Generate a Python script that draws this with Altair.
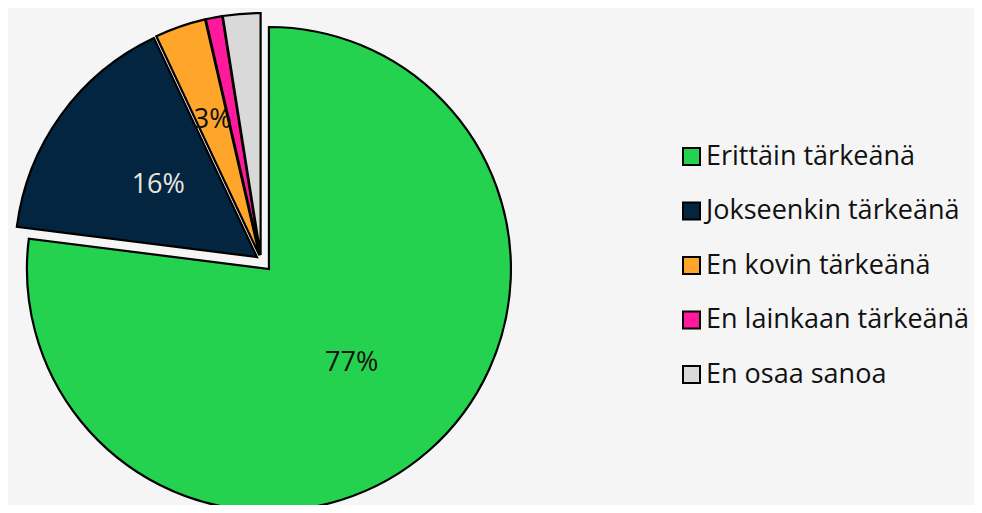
import altair as alt
import pandas as pd

categories = ["Erittäin tärkeänä", "Jokseenkin tärkeänä", "En kovin tärkeänä", "En lainkaan tärkeänä", "En osaa sanoa"]
values = [77.0, 16.0, 3.4, 1.1, 2.5]
labels = ["77%", "16%", "3%", "", ""]
colors = ["#25d24f", "#03253f", "#ffa52a", "#ff1a9c", "#d9d9d9"]
label_colors = ["#111111", "#e6e6e0", "#111111", "#111111", "#111111"]

# style: explode distance (px) per slice and label radius
explode = [12, 5, 5, 5, 5]
label_r = [125, 122, 143, 120, 120]

df = pd.DataFrame({
    "cat": categories,
    "value": values,
    "label": labels,
    "idx": list(range(len(categories))),
    "ex": explode,
    "lr": label_r,
    "tcol": label_colors,
})

CX, CY, R = 253, 252, 242
FONT = "Open Sans"

base = alt.Chart(df).transform_window(
    cum="sum(value)", sort=[alt.SortField("idx")], frame=[None, 0]
).transform_joinaggregate(
    total="sum(value)"
).transform_calculate(
    mid="(datum.cum - datum.value / 2) / datum.total * 2 * PI"
).transform_calculate(
    ox=f"{CX} + datum.ex * sin(datum.mid)",
    oy=f"{CY} - datum.ex * cos(datum.mid)",
).transform_calculate(
    lx="datum.ox + datum.lr * sin(datum.mid)",
    ly="datum.oy - datum.lr * cos(datum.mid)",
)

pie = base.mark_arc(outerRadius=R, stroke="black", strokeWidth=2.2).encode(
    theta=alt.Theta("value:Q", stack=True),
    order=alt.Order("idx:O"),
    x=alt.X("ox:Q", scale=None),
    y=alt.Y("oy:Q", scale=None),
    color=alt.Color(
        "cat:N",
        scale=alt.Scale(domain=categories, range=colors),
        sort=categories,
        legend=alt.Legend(
            title=None,
            orient="none",
            legendX=670,
            legendY=135,
            symbolType="square",
            symbolSize=289,
            symbolStrokeColor="black",
            symbolStrokeWidth=2,
            symbolOpacity=1,
            labelFont=FONT,
            labelFontSize=27,
            labelColor="#111111",
            labelOffset=1,
            labelLimit=0,
            rowPadding=26.5,
            padding=0,
        ),
    ),
)

text = base.mark_text(font=FONT, fontSize=27, align="center", baseline="middle").encode(
    x=alt.X("lx:Q", scale=None),
    y=alt.Y("ly:Q", scale=None),
    text="label:N",
    color=alt.Color("tcol:N", scale=None),
)

chart = alt.layer(pie, text).properties(
    width=966, height=497, autosize=alt.AutoSizeParams(type="none"), padding=0,
    background="#f5f5f5",
).configure_view(stroke=None)

chart.save("out.html", embed_options={"renderer": "svg", "actions": False})
